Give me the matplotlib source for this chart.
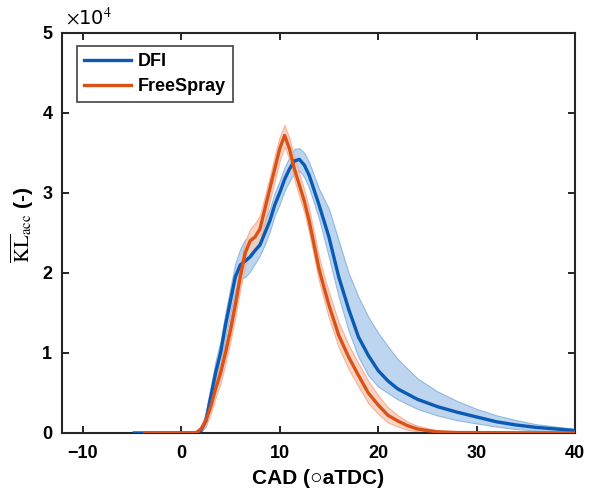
import numpy as np
import matplotlib
matplotlib.use("Agg")
import matplotlib.pyplot as plt

plt.rcParams['font.family'] = ['Liberation Sans', 'DejaVu Sans']
plt.rcParams['mathtext.fontset'] = 'stix'

# DFI mean and band (values in 1e4)
cad_dfi = [-4.75, 1.5, 2.0, 2.5, 3.0, 3.5, 4.0, 4.5, 5.0, 5.5, 6.0, 6.5, 7.0, 7.5, 8.0, 8.5,
           9.0, 9.5, 10.0, 10.5, 11.0, 11.5, 12.0, 12.5, 13.0, 14.0, 15.0, 16.0, 17.0,
           18.0, 19.0, 20.0, 21.0, 22.0, 24.0, 26.0, 28.0, 30.0, 32.0, 34.0, 36.0, 38.0, 40.0]
kl_dfi = [0.0, 0.0, 0.03, 0.15, 0.45, 0.75, 1.0, 1.35, 1.65, 1.95, 2.1, 2.15, 2.2, 2.28, 2.35, 2.5,
          2.65, 2.85, 3.0, 3.17, 3.3, 3.4, 3.42, 3.35, 3.22, 2.85, 2.45, 1.95, 1.55,
          1.2, 0.97, 0.78, 0.65, 0.55, 0.42, 0.33, 0.26, 0.2, 0.14, 0.1, 0.07, 0.05, 0.03]
dfi_up = [0.0, 0.0, 0.06, 0.25, 0.58, 0.9, 1.15, 1.5, 1.82, 2.12, 2.3, 2.42, 2.45, 2.45, 2.5, 2.65,
          2.8, 3.0, 3.15, 3.32, 3.45, 3.55, 3.56, 3.5, 3.38, 3.05, 2.8, 2.4, 2.0,
          1.7, 1.45, 1.25, 1.08, 0.92, 0.68, 0.52, 0.4, 0.3, 0.22, 0.16, 0.11, 0.08, 0.05]
dfi_lo = [0.0, 0.0, 0.01, 0.08, 0.33, 0.62, 0.86, 1.2, 1.5, 1.78, 1.92, 1.95, 2.02, 2.12, 2.22, 2.36,
          2.52, 2.72, 2.86, 3.03, 3.15, 3.25, 3.28, 3.2, 3.06, 2.68, 2.2, 1.7, 1.28,
          0.95, 0.72, 0.58, 0.5, 0.42, 0.3, 0.22, 0.16, 0.12, 0.08, 0.05, 0.03, 0.02, 0.01]

# FreeSpray mean and band (values in 1e4)
cad_fs = [-3.7, 1.5, 2.0, 2.5, 3.0, 3.5, 4.0, 4.5, 5.0, 5.5, 6.0, 6.5, 7.0, 7.5, 8.0, 8.5,
          9.0, 9.5, 10.0, 10.5, 11.0, 11.5, 12.0, 12.5, 13.0, 13.5, 14.0, 14.5, 15.0, 16.0,
          17.0, 18.0, 19.0, 20.0, 21.0, 22.0, 23.0, 24.0, 25.0, 26.0, 28.0, 40.0]
kl_fs = [0.0, 0.0, 0.05, 0.15, 0.33, 0.55, 0.75, 1.0, 1.28, 1.6, 1.95, 2.25, 2.4, 2.45, 2.55, 2.8,
         3.05, 3.3, 3.55, 3.72, 3.55, 3.3, 3.1, 2.9, 2.65, 2.35, 2.05, 1.82, 1.6, 1.22,
         0.95, 0.72, 0.5, 0.35, 0.22, 0.15, 0.09, 0.05, 0.03, 0.015, 0.005, 0.0]
fs_up = [0.0, 0.0, 0.08, 0.22, 0.42, 0.66, 0.88, 1.13, 1.42, 1.75, 2.1, 2.4, 2.55, 2.62, 2.72, 2.96,
         3.2, 3.46, 3.7, 3.85, 3.68, 3.44, 3.24, 3.04, 2.8, 2.5, 2.2, 1.97, 1.76, 1.38,
         1.1, 0.87, 0.65, 0.47, 0.32, 0.22, 0.14, 0.09, 0.06, 0.03, 0.01, 0.0]
fs_lo = [0.0, 0.0, 0.02, 0.09, 0.24, 0.44, 0.62, 0.87, 1.14, 1.45, 1.8, 2.1, 2.25, 2.3, 2.4, 2.64,
         2.9, 3.15, 3.4, 3.58, 3.42, 3.16, 2.96, 2.76, 2.5, 2.2, 1.9, 1.67, 1.44, 1.07,
         0.8, 0.58, 0.37, 0.24, 0.13, 0.08, 0.04, 0.02, 0.01, 0.005, 0.0, 0.0]

blue = '#0b5ab4'
orange = '#d95319'

fig = plt.figure(figsize=(5.96, 4.92), dpi=100)
ax = fig.add_axes([0.104, 0.120, 0.861, 0.813])

sc = 1e4
ax.fill_between(cad_dfi, np.array(dfi_lo) * sc, np.array(dfi_up) * sc,
                facecolor='#bdd5ee', edgecolor='#8fb8e3', linewidth=0.8, zorder=1)
ax.fill_between(cad_fs, np.array(fs_lo) * sc, np.array(fs_up) * sc,
                facecolor='#f9cdbb', edgecolor='#f4a98a', linewidth=0.8, alpha=0.85, zorder=2)
ax.plot(cad_dfi, np.array(kl_dfi) * sc, color=blue, lw=2.4, label='DFI', zorder=3)
ax.plot(cad_fs, np.array(kl_fs) * sc, color=orange, lw=2.4, label='FreeSpray', zorder=4)

ax.set_xlim(-12.1, 40)
ax.set_ylim(0, 5e4)
ax.set_xticks([-10, 0, 10, 20, 30, 40])
ax.set_yticks([0, 1e4, 2e4, 3e4, 4e4, 5e4])
ax.set_yticklabels(['0', '1', '2', '3', '4', '5'])
ax.tick_params(direction='in', top=True, right=True, length=5, width=1.2,
               labelsize=13)
ax.tick_params(axis='x', pad=9)
ax.tick_params(axis='y', pad=7)
for lab in ax.get_xticklabels() + ax.get_yticklabels():
    lab.set_fontweight('bold')
for s in ax.spines.values():
    s.set_linewidth(1.5)
    s.set_color('#262626')

ax.text(0.008, 1.01, r'$\times$10$^4$', transform=ax.transAxes, fontsize=14,
        ha='left', va='bottom', family='DejaVu Sans')

ax.set_xlabel('CAD (\u25cbaTDC)', fontsize=15, fontweight='bold', labelpad=5)
ax.set_ylabel(r'$\overline{\mathrm{KL}}_{\mathrm{acc}}$ (-)', fontsize=15,
              fontweight='bold')
ax.yaxis.set_label_coords(-0.05, 0.52)

leg = ax.legend(loc='upper left', bbox_to_anchor=(0.029, 0.968), borderaxespad=0,
                prop={'weight': 'bold', 'size': 13}, frameon=True, fancybox=False,
                handlelength=2.6, borderpad=0.4, labelspacing=0.45, handletextpad=0.35)
leg.get_frame().set_edgecolor('#262626')
leg.get_frame().set_linewidth(1.3)

fig.savefig('out.png', dpi=100)
